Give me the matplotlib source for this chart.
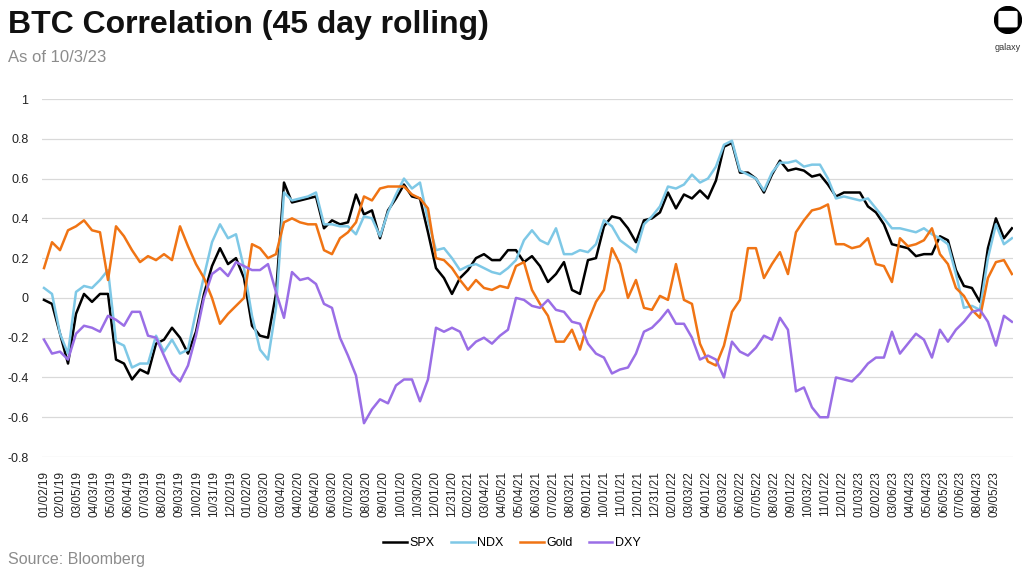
import numpy as np
import matplotlib
matplotlib.use("Agg")
import matplotlib.pyplot as plt
from matplotlib.patches import Circle, FancyBboxPatch

plt.rcParams['font.family'] = ['Liberation Sans', 'DejaVu Sans']

# 45-day rolling correlation with BTC, sampled roughly every 10 trading days
spx = [-0.01, -0.03, -0.18, -0.33, -0.08, 0.02, -0.02, 0.02, 0.02, -0.31,
       -0.33, -0.41, -0.36, -0.38, -0.23, -0.21, -0.15, -0.20, -0.28, -0.17,
       0.02, 0.16, 0.25, 0.17, 0.20, 0.10, -0.14, -0.19, -0.20, 0.02,
       0.58, 0.48, 0.49, 0.50, 0.51, 0.35, 0.39, 0.37, 0.38, 0.52,
       0.42, 0.44, 0.30, 0.44, 0.50, 0.57, 0.51, 0.50, 0.33, 0.15,
       0.10, 0.02, 0.10, 0.14, 0.20, 0.22, 0.19, 0.19, 0.24, 0.24,
       0.18, 0.21, 0.16, 0.08, 0.12, 0.18, 0.04, 0.02, 0.19, 0.20,
       0.36, 0.41, 0.40, 0.35, 0.28, 0.39, 0.40, 0.43, 0.53, 0.45,
       0.52, 0.50, 0.54, 0.50, 0.59, 0.76, 0.78, 0.63, 0.63, 0.60,
       0.53, 0.62, 0.69, 0.64, 0.65, 0.64, 0.61, 0.62, 0.57, 0.51,
       0.53, 0.53, 0.53, 0.46, 0.43, 0.37, 0.27, 0.26, 0.25, 0.21,
       0.22, 0.22, 0.31, 0.29, 0.14, 0.06, 0.05, -0.02, 0.25, 0.40,
       0.30, 0.35]

ndx = [0.05, 0.02, -0.18, -0.28, 0.03, 0.06, 0.05, 0.09, 0.14, -0.22,
       -0.24, -0.35, -0.33, -0.33, -0.19, -0.27, -0.21, -0.28, -0.26, -0.07,
       0.11, 0.28, 0.37, 0.30, 0.32, 0.15, -0.09, -0.26, -0.31, -0.05,
       0.53, 0.49, 0.50, 0.51, 0.53, 0.37, 0.37, 0.36, 0.36, 0.32,
       0.41, 0.40, 0.31, 0.43, 0.52, 0.60, 0.55, 0.58, 0.39, 0.24,
       0.25, 0.20, 0.14, 0.16, 0.17, 0.15, 0.13, 0.12, 0.15, 0.19,
       0.29, 0.34, 0.29, 0.27, 0.35, 0.22, 0.22, 0.24, 0.23, 0.27,
       0.39, 0.36, 0.29, 0.26, 0.23, 0.37, 0.41, 0.46, 0.56, 0.55,
       0.57, 0.62, 0.58, 0.60, 0.66, 0.77, 0.79, 0.64, 0.62, 0.60,
       0.54, 0.63, 0.68, 0.68, 0.69, 0.66, 0.67, 0.67, 0.60, 0.50,
       0.51, 0.50, 0.49, 0.50, 0.45, 0.40, 0.35, 0.35, 0.34, 0.33,
       0.35, 0.32, 0.30, 0.27, 0.12, -0.05, -0.04, -0.06, 0.20, 0.37,
       0.27, 0.30]

gold = [0.15, 0.28, 0.24, 0.34, 0.36, 0.39, 0.34, 0.33, 0.09, 0.36,
        0.31, 0.24, 0.18, 0.21, 0.19, 0.22, 0.19, 0.36, 0.26, 0.17,
        0.10, 0.00, -0.13, -0.08, -0.04, 0.00, 0.27, 0.25, 0.20, 0.22,
        0.38, 0.40, 0.38, 0.37, 0.37, 0.24, 0.22, 0.30, 0.33, 0.38,
        0.51, 0.49, 0.55, 0.56, 0.56, 0.56, 0.52, 0.50, 0.45, 0.20,
        0.19, 0.15, 0.09, 0.04, 0.09, 0.05, 0.04, 0.06, 0.05, 0.16,
        0.18, 0.04, -0.03, -0.09, -0.22, -0.22, -0.16, -0.26, -0.12, -0.02,
        0.04, 0.25, 0.17, 0.00, 0.09, -0.05, -0.06, 0.01, -0.01, 0.17,
        -0.01, -0.03, -0.23, -0.32, -0.34, -0.24, -0.07, -0.01, 0.25, 0.25,
        0.10, 0.17, 0.23, 0.12, 0.33, 0.39, 0.44, 0.45, 0.47, 0.27,
        0.27, 0.25, 0.26, 0.30, 0.17, 0.16, 0.08, 0.30, 0.26, 0.27,
        0.29, 0.35, 0.22, 0.17, 0.05, 0.01, -0.06, -0.10, 0.10, 0.18,
        0.19, 0.12]

dxy = [-0.21, -0.28, -0.27, -0.31, -0.18, -0.14, -0.15, -0.17, -0.09, -0.11,
       -0.14, -0.07, -0.07, -0.19, -0.20, -0.29, -0.38, -0.42, -0.34, -0.19,
       0.00, 0.12, 0.15, 0.11, 0.18, 0.16, 0.14, 0.14, 0.17, 0.03,
       -0.10, 0.13, 0.09, 0.10, 0.07, -0.03, -0.05, -0.20, -0.29, -0.39,
       -0.63, -0.56, -0.51, -0.53, -0.44, -0.41, -0.41, -0.52, -0.41, -0.15,
       -0.17, -0.15, -0.17, -0.26, -0.22, -0.20, -0.23, -0.19, -0.16, 0.00,
       -0.01, -0.04, -0.05, -0.01, -0.06, -0.07, -0.12, -0.13, -0.23, -0.28,
       -0.30, -0.38, -0.36, -0.35, -0.28, -0.17, -0.15, -0.11, -0.06, -0.13,
       -0.13, -0.20, -0.31, -0.29, -0.31, -0.40, -0.22, -0.27, -0.29, -0.25,
       -0.19, -0.21, -0.10, -0.16, -0.47, -0.45, -0.55, -0.60, -0.60, -0.40,
       -0.41, -0.42, -0.38, -0.33, -0.30, -0.30, -0.17, -0.28, -0.23, -0.18,
       -0.21, -0.30, -0.16, -0.22, -0.16, -0.12, -0.07, -0.06, -0.12, -0.24,
       -0.09, -0.12]

tick_labels = ['01/02/19', '02/01/19', '03/05/19', '04/03/19', '05/03/19', '06/04/19',
               '07/03/19', '08/02/19', '09/03/19', '10/02/19', '10/31/19', '12/02/19',
               '01/02/20', '02/03/20', '03/04/20', '04/02/20', '05/04/20', '06/03/20',
               '07/02/20', '08/03/20', '09/01/20', '10/01/20', '10/30/20', '12/01/20',
               '12/31/20', '02/02/21', '03/04/21', '04/05/21', '05/04/21', '06/03/21',
               '07/02/21', '08/03/21', '09/01/21', '10/01/21', '11/01/21', '12/01/21',
               '12/31/21', '02/01/22', '03/03/22', '04/01/22', '05/03/22', '06/02/22',
               '07/05/22', '08/03/22', '09/01/22', '10/03/22', '11/01/22', '12/01/22',
               '01/03/23', '02/02/23', '03/06/23', '04/04/23', '05/04/23', '06/05/23',
               '07/06/23', '08/04/23', '09/05/23']

n_days = 1198
tick_step = 21

series = [('SPX', spx, '#000000'),
          ('NDX', ndx, '#7ec8e6'),
          ('Gold', gold, '#f07414'),
          ('DXY', dxy, '#9a6ee6')]

fig = plt.figure(figsize=(10.24, 5.74), dpi=100)
ax = fig.add_axes([0.0414, 0.2038, 0.9476, 0.6237])

for name, vals, col in series:
    x = np.linspace(0, n_days - 1, len(vals))
    ax.plot(x, vals, color=col, lw=1.8, label=name, solid_joinstyle='round')

ax.set_xlim(-2, n_days)
ax.set_ylim(-0.8, 1.0)
ax.set_yticks(np.arange(-0.8, 1.01, 0.2))
ax.set_yticklabels(['-0.8', '-0.6', '-0.4', '-0.2', '0', '0.2', '0.4', '0.6', '0.8', '1'])
ax.set_xticks(np.arange(len(tick_labels)) * tick_step)
ax.set_xticklabels(tick_labels, rotation=90)
ax.tick_params(axis='x', length=0, pad=10, labelsize=8.5, colors='#222222')
ax.tick_params(axis='y', length=0, pad=10, labelsize=9, colors='#222222')
ax.grid(axis='y', color='#d9d9d9', lw=0.9)
ax.set_axisbelow(True)
for s in ax.spines.values():
    s.set_visible(False)

fig.legend(loc='center', bbox_to_anchor=(0.5, 1 - 543 / 574), ncol=4, frameon=False,
           fontsize=9, handlelength=1.9, handletextpad=0.2, columnspacing=1.3)

fig.text(0.008, 1 - 33 / 574, 'BTC Correlation (45 day rolling)', fontsize=23,
         fontweight='bold', color='#111111', va='baseline')
fig.text(0.008, 1 - 62 / 574, 'As of 10/3/23', fontsize=12, color='#8c8c8c', va='baseline')
fig.text(0.008, 1 - 564 / 574, 'Source: Bloomberg', fontsize=11.5, color='#8c8c8c', va='baseline')

# galaxy logo
lax = fig.add_axes([994 / 1024, 1 - 34 / 574, 28 / 1024, 28 / 574])
lax.set_xlim(0, 1)
lax.set_ylim(0, 1)
lax.set_aspect('equal')
lax.axis('off')
lax.add_patch(Circle((0.5, 0.5), 0.48, color='black'))
lax.add_patch(FancyBboxPatch((0.22, 0.3), 0.56, 0.46, boxstyle='round,pad=0.04',
                             color='white'))
fig.text(1008 / 1024, 1 - 47 / 574, 'galaxy', fontsize=6.5, color='#333333',
         ha='center', va='center')

fig.savefig('out.png', dpi=100)
